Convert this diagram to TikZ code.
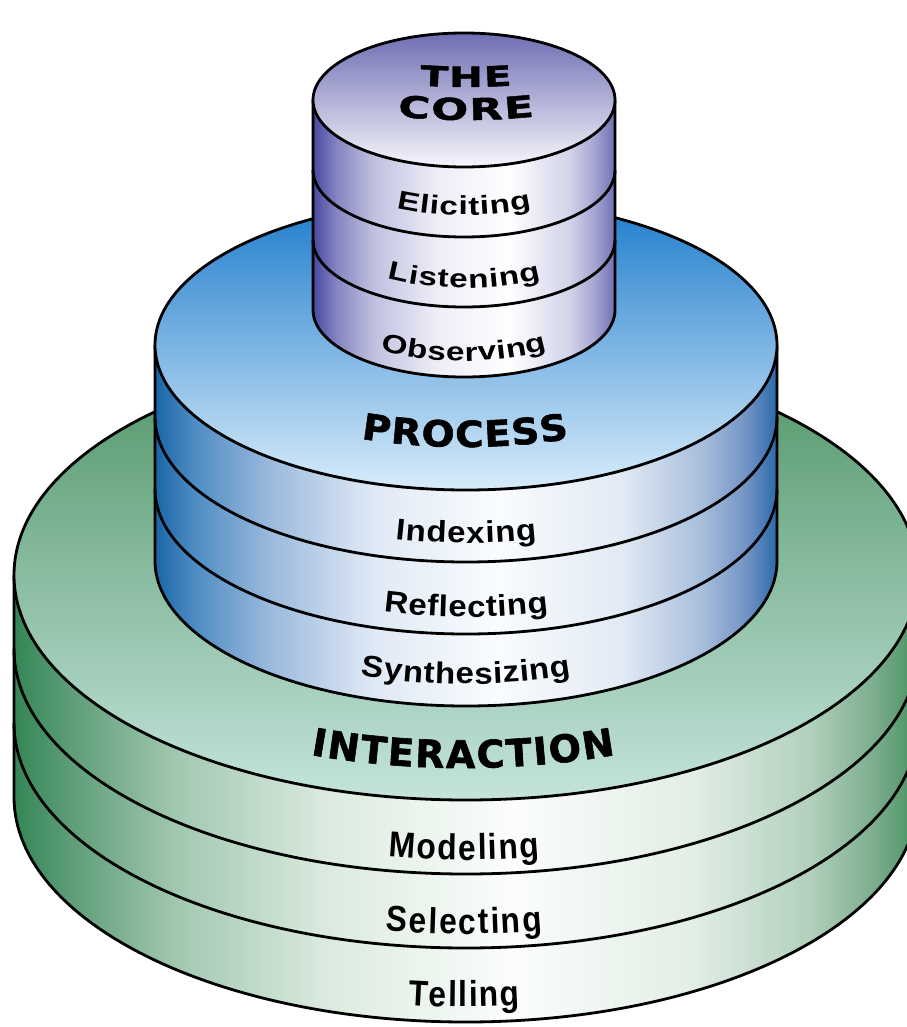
\documentclass[tikz,border=0pt]{standalone}
\usepackage{fontspec}
\usetikzlibrary{calc,decorations.text}
\newfontfamily\corefont{Liberation Sans}[FakeStretch=1.28]
\newfontfamily\procfont{Liberation Sans}[FakeStretch=1.1]
\newfontfamily\narfont{Liberation Sans}[FakeStretch=0.88]
\newfontfamily\hdfont{DejaVu Sans}[FakeStretch=1.08,BoldFeatures={FakeBold=1.6}]
\newfontfamily\inhdfont{DejaVu Sans}[BoldFeatures={FakeBold=1.6}]
\newfontfamily\widefont{DejaVu Sans}[FakeStretch=1.45,BoldFeatures={FakeBold=1.6}]
\newcommand\corelab{\corefont\bfseries\fontsize{26pt}{26pt}\selectfont}
\newcommand\proclab{\procfont\bfseries\fontsize{30pt}{30pt}\selectfont}
\newcommand\intlab{\narfont\bfseries\fontsize{36pt}{36pt}\selectfont}
\newcommand\corehead{\widefont\bfseries\fontsize{28pt}{28pt}\selectfont}
\newcommand\corheadb{\widefont\bfseries\fontsize{30pt}{30pt}\selectfont}
\newcommand\bighead{\hdfont\bfseries\fontsize{36pt}{36pt}\selectfont}
\newcommand\inthead{\inhdfont\bfseries\fontsize{38pt}{38pt}\selectfont}
% colours
\definecolor{cA}{HTML}{4848A0}\definecolor{cB}{HTML}{8686C2}\definecolor{cC}{HTML}{C0C0E0}
\definecolor{cD}{HTML}{ECECF7}\definecolor{cW}{HTML}{FFFFFF}\definecolor{cF}{HTML}{D2D2EA}
\definecolor{cG}{HTML}{A6A6D2}\definecolor{cH}{HTML}{7070B4}
\definecolor{bA}{HTML}{1866A6}\definecolor{bB}{HTML}{4C8AC2}\definecolor{bC}{HTML}{98B8DC}
\definecolor{bD}{HTML}{DFE9F5}\definecolor{bW}{HTML}{FAFCFE}\definecolor{bF}{HTML}{E2EAF4}
\definecolor{bG}{HTML}{A8BEDC}\definecolor{bH}{HTML}{7294C4}\definecolor{bI}{HTML}{2A6AAA}
\definecolor{gA}{HTML}{348656}\definecolor{gB}{HTML}{5C9C76}\definecolor{gC}{HTML}{A2C8B0}
\definecolor{gD}{HTML}{DCEBE0}\definecolor{gW}{HTML}{FBFDFB}\definecolor{gF}{HTML}{E2EEE6}
\definecolor{gG}{HTML}{B2D0BC}\definecolor{gH}{HTML}{7CAE8E}\definecolor{gI}{HTML}{4A9262}
\definecolor{ctT}{HTML}{6E6EB4}\definecolor{ctM}{HTML}{A4A4D2}\definecolor{ctB}{HTML}{F6F6FC}
\definecolor{btT}{HTML}{1E7CCC}\definecolor{btM}{HTML}{6EA8E2}\definecolor{btB}{HTML}{D8ECFA}
\definecolor{gtT}{HTML}{4E9464}\definecolor{gtM}{HTML}{82B896}\definecolor{gtB}{HTML}{C4E4DC}
\pgfdeclarehorizontalshading{coreside}{100bp}{color(0bp)=(cA); color(25bp)=(cA); color(29bp)=(cB); color(35bp)=(cC); color(45bp)=(cD); color(57.5bp)=(cW); color(67.5bp)=(cF); color(71.5bp)=(cG); color(75bp)=(cH); color(100bp)=(cH)}
\pgfdeclarehorizontalshading{blueside}{100bp}{color(0bp)=(bA); color(25bp)=(bA); color(28bp)=(bB); color(34bp)=(bC); color(42.5bp)=(bD); color(52.5bp)=(bW); color(62.5bp)=(bF); color(69bp)=(bG); color(72.5bp)=(bH); color(75bp)=(bI); color(100bp)=(bI)}
\pgfdeclarehorizontalshading{greenside}{100bp}{color(0bp)=(gA); color(25bp)=(gA); color(28bp)=(gB); color(34bp)=(gC); color(42.5bp)=(gD); color(52.5bp)=(gW); color(62.5bp)=(gF); color(69bp)=(gG); color(72.5bp)=(gH); color(75bp)=(gI); color(100bp)=(gI)}
% arched text: #1 cx, #2 baseline y, #3 rx, #4 ry, #5 width, #6 format, #7 text
\newcommand\arctext[7]{%
  \pgfmathsetmacro\tha{asin((#5)/(2*(#3)))}%
  \path[decorate,decoration={text along path,text align=fit to path,text={|#6|#7}}]
    ($(#1,#2-#4)+({90+\tha}:#3 and #4)$) arc[start angle={90+\tha},end angle={90-\tha},x radius=#3,y radius=#4];%
}
\begin{document}
\begin{tikzpicture}[x=1pt,y=-1pt,olin/.style={draw=black,line width=2.8pt}]
\useasboundingbox (0,0) rectangle (906,1027);
\fill[white] (0,0) rectangle (906,1027);
% ---------- green: interaction ----------
\path[olin,shade,shading=greenside] (14,575) -- (14,797) arc[start angle=180,end angle=0,x radius=452,y radius=225] -- (918,575);
\foreach \yy in {649,723} \draw[olin] (14,\yy) arc[start angle=180,end angle=0,x radius=452,y radius=225];
\path[olin,top color=gtT,middle color=gtM,bottom color=gtB] (466,575) ellipse[x radius=452,y radius=225];
\arctext{463}{768}{452}{225}{305}{\inthead}{INTERACTION}
\arctext{464}{860}{452}{225}{152}{\intlab}{Modeling}
\arctext{464}{934}{452}{225}{157}{\intlab}{Selecting}
\arctext{464}{1007}{452}{225}{112}{\intlab}{Telling}
% ---------- blue: process ----------
\path[olin,shade,shading=blueside] (155,345) -- (155,561) arc[start angle=180,end angle=0,x radius=311,y radius=145] -- (777,345);
\foreach \yy in {417,489} \draw[olin] (155,\yy) arc[start angle=180,end angle=0,x radius=311,y radius=145];
\path[olin,top color=btT,middle color=btM,bottom color=btB] (466,345) ellipse[x radius=311,y radius=145];
\arctext{465}{447}{311}{145}{208}{\bighead}{PROCESS}
\arctext{466}{543}{311}{145}{142}{\proclab}{Indexing}
\arctext{466}{617}{311}{145}{165}{\proclab}{Reflecting}
\arctext{466}{684}{311}{145}{210}{\proclab}{Synthesizing}
% ---------- purple: the core ----------
\path[olin,shade,shading=coreside] (313,100) -- (313,310) arc[start angle=180,end angle=0,x radius=151,y radius=67] -- (615,310) -- (615,100);
\foreach \yy in {170,240} \draw[olin] (313,\yy) arc[start angle=180,end angle=0,x radius=151,y radius=67];
\path[olin,top color=ctT,middle color=ctM,bottom color=ctB] (464,100) ellipse[x radius=151,y radius=67];
\arctext{466}{87}{151}{33}{92}{\corehead}{THE}
\arctext{466}{120}{151}{33}{137}{\corheadb}{CORE}
\arctext{464}{215}{151}{67}{135}{\corelab}{Eliciting}
\arctext{464}{288}{151}{67}{154}{\corelab}{Listening}
\arctext{464}{361}{151}{67}{167}{\corelab}{Observing}
\end{tikzpicture}
\end{document}
